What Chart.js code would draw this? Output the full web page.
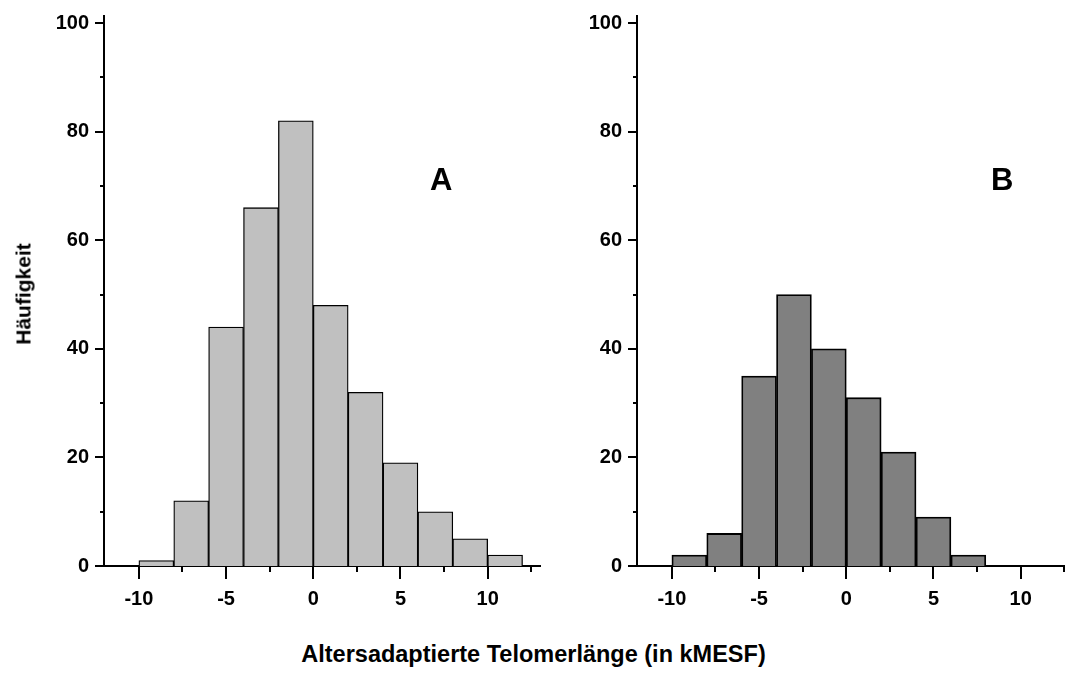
<!DOCTYPE html>
<html lang="de">
<head>
<meta charset="utf-8">
<title>Häufigkeit – Altersadaptierte Telomerlänge</title>
<script src="https://cdn.jsdelivr.net/npm/chart.js@4/dist/chart.umd.min.js"></script>
<style>
  html, body { margin: 0; padding: 0; background: #fff; overflow: hidden; }
  body { width: 1065px; height: 675px; position: relative; font-family: "Liberation Sans", Arial, sans-serif; }
  .panel { position: absolute; top: 0; width: 560px; height: 620px; }
  .panel canvas { display: block; }
  #panel-a { left: 0; }
  #panel-b { left: 533px; }
  .letter { position: absolute; font: bold 31px "Liberation Sans", Arial, sans-serif; color: #000; line-height: 1; }
  #x-title { position: absolute; left: 0; width: 1067px; top: 643px; text-align: center;
             font: bold 23.5px "Liberation Sans", Arial, sans-serif; color: #000; line-height: 1; }
  #y-title { position: absolute; left: 23px; top: 294px; transform: translate(-50%, -50%) rotate(-90deg);
             font: bold 21px "Liberation Sans", Arial, sans-serif; color: #000; white-space: nowrap; line-height: 1; }
</style>
</head>
<body>

<div class="panel" id="panel-a"><canvas id="chart-a" width="560" height="620"></canvas></div>
<div class="panel" id="panel-b"><canvas id="chart-b" width="560" height="620"></canvas></div>
<div class="letter" style="left:430px; top:164px;">A</div>
<div class="letter" style="left:991px; top:164px;">B</div>
<div id="y-title">Häufigkeit</div>
<div id="x-title">Altersadaptierte Telomerlänge (in kMESF)</div>

<script>
// ── Daten ───────────────────────────────────────────────────────────────────
// Klassenmitten (Breite 2 kMESF)
const binCentersA = [-9, -7, -5, -3, -1, 1, 3, 5, 7, 9, 11];
const countsA     = [1, 12, 44, 66, 82, 48, 32, 19, 10, 5, 2];

const binCentersB = [-9, -7, -5, -3, -1, 1, 3, 5, 7];
const countsB     = [2, 6, 35, 50, 40, 31, 21, 9, 2];

// Achsenstriche
const xTicks      = [-10, -7.5, -5, -2.5, 0, 2.5, 5, 7.5, 10, 12.5];
const xLabelTicks = [-10, -5, 0, 5, 10];
const yTicks      = [0, 10, 20, 30, 40, 50, 60, 70, 80, 90, 100];
const yLabelTicks = [0, 20, 40, 60, 80, 100];

const X_MIN = -12, X_MAX = 13;
const Y_MIN = 0, Y_MAX = 101.3;
const TICK_FONT = { family: "'Liberation Sans', Arial, sans-serif", size: 20, weight: "bold" };

// ── Plugin: Haupt-/Nebenstriche außen ───────────────────────────────────────
const tickMarks = {
  id: "tickMarks",
  afterDraw(chart) {
    const { ctx, chartArea, scales } = chart;
    ctx.save();
    ctx.strokeStyle = "#000";
    ctx.lineWidth = 2;
    ctx.beginPath();
    scales.x.ticks.forEach(t => {
      const px = Math.round(scales.x.getPixelForValue(t.value));
      const len = xLabelTicks.includes(t.value) ? 13 : 6;
      ctx.moveTo(px, chartArea.bottom);
      ctx.lineTo(px, chartArea.bottom + len);
    });
    scales.y.ticks.forEach(t => {
      const py = Math.round(scales.y.getPixelForValue(t.value));
      const len = yLabelTicks.includes(t.value) ? 9 : 4;
      ctx.moveTo(chartArea.left, py);
      ctx.lineTo(chartArea.left - len, py);
    });
    ctx.stroke();
    ctx.restore();
  },
};

// feste Achsenmaße, damit beide Felder exakt gleich liegen
function fixBox(scale, size) {
  if (scale.isHorizontal()) scale.height = size;
  else scale.width = size;
  scale.paddingTop = 0;
  scale.paddingBottom = 0;
  scale.paddingLeft = 0;
  scale.paddingRight = 0;
}

// ── Histogramm ──────────────────────────────────────────────────────────────
function renderHistogram(canvasId, centers, counts, fill, borderWidth) {
  const canvas = document.getElementById(canvasId);
  if (!canvas || typeof Chart === "undefined") return;

  return new Chart(canvas, {
    type: "bar",
    data: {
      datasets: [{
        data: centers.map((c, i) => ({ x: c, y: counts[i] ?? 0 })),
        backgroundColor: fill,
        borderColor: "#000",
        borderWidth,
        barPercentage: 1,
        categoryPercentage: 1,
      }],
    },
    options: {
      responsive: false,
      animation: false,
      devicePixelRatio: 1,
      layout: { padding: { left: 0, right: 20, top: 16, bottom: 0 } },
      plugins: { legend: { display: false }, tooltip: { enabled: false } },
      scales: {
        x: {
          type: "linear",
          min: X_MIN,
          max: X_MAX,
          offset: false,
          afterBuildTicks: scale => { scale.ticks = xTicks.map(v => ({ value: v })); },
          afterFit: scale => fixBox(scale, 54),
          grid: { display: false, drawTicks: false, offset: false },
          border: { display: true, color: "#000", width: 2 },
          ticks: {
            autoSkip: false,
            maxRotation: 0,
            padding: 21,
            color: "#000",
            font: TICK_FONT,
            callback: v => (xLabelTicks.includes(v) ? String(v) : ""),
          },
        },
        y: {
          min: Y_MIN,
          max: Y_MAX,
          afterBuildTicks: scale => { scale.ticks = yTicks.map(v => ({ value: v })); },
          afterFit: scale => fixBox(scale, 104),
          grid: { display: false, drawTicks: false },
          border: { display: true, color: "#000", width: 2 },
          ticks: {
            autoSkip: false,
            padding: 15,
            color: "#000",
            font: TICK_FONT,
            callback: v => (yLabelTicks.includes(v) ? String(v) : ""),
          },
        },
      },
    },
    plugins: [tickMarks],
  });
}

renderHistogram("chart-a", binCentersA, countsA, "#c0c0c0", 1.3);
renderHistogram("chart-b", binCentersB, countsB, "#808080", 1.8);
</script>
</body>
</html>
